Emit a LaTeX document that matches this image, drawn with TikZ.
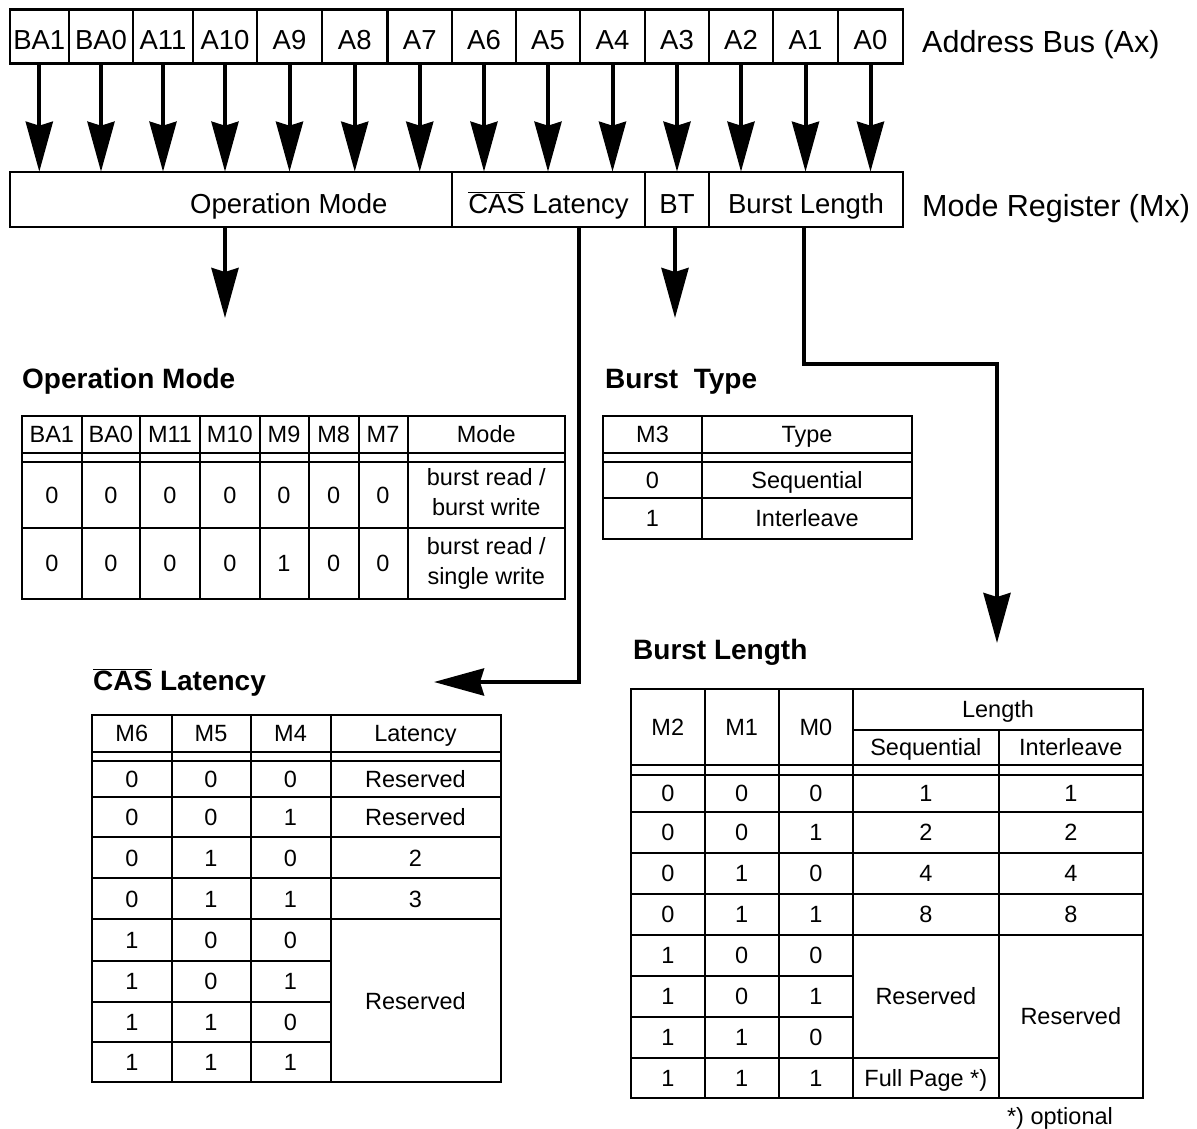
\documentclass[tikz,border=0pt]{standalone}
\usepackage{fontspec}
\setmainfont{Liberation Sans}
\usetikzlibrary{arrows.meta,calc}
\newcommand{\ovl}[1]{$\overline{\mbox{#1}}$}
\begin{document}
\begin{tikzpicture}[x=1pt,y=-1pt,
  regcell/.style={draw, line width=2.1pt, inner sep=0pt, outer sep=0pt, anchor=north west, font=\fontsize{27.5}{30}\selectfont},
  tline/.style={line width=2pt, line cap=rect},
  tt/.style={inner sep=0pt, font=\fontsize{23.5}{31}\selectfont, text height=16.8pt, text depth=0pt},
  tttwo/.style={inner sep=0pt, align=center, font=\fontsize{23.5}{30}\selectfont},
  ttl/.style={inner sep=0pt, anchor=base west, font=\fontsize{28}{30}\selectfont\bfseries},
  side/.style={inner sep=0pt, anchor=base west, font=\fontsize{30.5}{33}\selectfont},
  bigarrow/.style={line width=4pt, -{Stealth[length=50pt,width=27pt,inset=4pt]}},
]
\fill[white] (0,0) rectangle (1197,1129);
\useasboundingbox (0,0) rectangle (1197,1129);

% ---------- address bus ----------
\foreach \n/\l/\r/\t in {c0/9.6/69/BA1, c1/69/133/BA0, c2/133/193/A11, c3/193/257/A10, c4/257/322/A9, c5/322/387.5/A8, c6/387.5/452/A7, c7/452/516/A6, c8/516/580/A5, c9/580/645/A4, c10/645/709/A3, c11/709/773/A2, c12/773/838/A1, c13/838/903/A0}{
  \pgfmathsetmacro\w{\r-\l}
  \node[regcell, minimum width=\w pt, minimum height=54pt, text height=27pt, text depth=0pt] (\n) at (\l,9.5) {\t};
}
\node[side] (lab) at (922,53) {Address Bus (Ax)};

% ---------- mode register ----------
\node[regcell, minimum width=442.4pt, minimum height=55pt] (rop) at (9.6,171.7) {};
\node[regcell, minimum width=193pt, minimum height=55pt, text height=28.2pt, text depth=0pt] (rcas) at (452,171.7) {\ovl{CAS} Latency};
\node[regcell, minimum width=64pt, minimum height=55pt, text height=28.2pt, text depth=0pt] (rbt) at (645,171.7) {BT};
\node[regcell, minimum width=194pt, minimum height=55pt, text height=28.2pt, text depth=0pt] (rbl) at (709,171.7) {Burst Length};
\node[inner sep=0pt, font=\fontsize{27.5}{30}\selectfont, text height=28.2pt, text depth=0pt] (ropt) at ($(rop.center)+(58,0)$) {Operation Mode};
\node[side] (lmr) at (922,216.7) {Mode Register (Mx)};

% arrows bus -> register
\foreach \i in {0,...,13}
  \draw[bigarrow] (c\i.south) -- (c\i.south |- rop.north);

% arrows from register
\coordinate (opend) at (225,318);
\coordinate (btend) at (675,318);
\coordinate (casturn) at (579,682);
\coordinate (castip) at (434,682);
\coordinate (blone) at (804,364);
\coordinate (bltwo) at (997,364);
\coordinate (bltip) at (997,643);
\draw[bigarrow] (rop.south -| opend) -- (opend);
\draw[bigarrow] (rbt.south -| btend) -- (btend);
\draw[bigarrow] (rcas.south -| casturn) -- (casturn) -- (castip);
\draw[bigarrow] (rbl.south -| blone) -- (blone) -- (bltwo) -- (bltip);

% ---------- titles ----------
\node[ttl] (tom) at (22,388) {Operation Mode};
\node[ttl] (tbt) at (605,388) {Burst\ \ Type};
\node[ttl] (tbl) at (633,659) {Burst Length};
\node[ttl] (tcas) at (93,690) {\ovl{CAS} Latency};

% ---------- operation mode table ----------
\foreach \y in {416,452.7,461.7,527.7,599} \draw[tline] (22,\y) -- (565,\y);
\foreach \x in {22,81.5,140,200,259.5,308.6,358.5,407.6,565} \draw[tline] (\x,416) -- (\x,599);
\foreach \x/\t [count=\i] in {51.8/BA1,110.8/BA0,170/M11,229.8/M10,284/M9,333.6/M8,383/M7,486.3/Mode}
  \node[tt] (omh\i) at (\x,434.4) {\t};
\foreach \x/\t [count=\i] in {51.8/0,110.8/0,170/0,229.8/0,284/0,333.6/0,383/0}
  \node[tt] (oma\i) at (\x,494.7) {\t};
\foreach \x/\t [count=\i] in {51.8/0,110.8/0,170/0,229.8/0,284/1,333.6/0,383/0}
  \node[tt] (omb\i) at (\x,563.4) {\t};
\node[tttwo] (oma8) at (486.3,492.5) {burst read /\\burst write};
\node[tttwo] (omb8) at (486.3,563.4) {burst read /\\single write};

% ---------- burst type table ----------
\foreach \y in {416,452.7,461.7,497.7,539} \draw[tline] (603,\y) -- (912,\y);
\foreach \x in {603,702,912} \draw[tline] (\x,416) -- (\x,539);
\node[tt] (bth1) at (652.5,434.4) {M3};
\node[tt] (bth2) at (807,434.4) {Type};
\node[tt] (bta1) at (652.5,479.7) {0};
\node[tt] (bta2) at (807,479.7) {Sequential};
\node[tt] (btb1) at (652.5,518.4) {1};
\node[tt] (btb2) at (807,518.4) {Interleave};

% ---------- CAS latency table ----------
\foreach \y in {715,751.7,760.7,796.7,837.3,878.3,919.3,1082.3} \draw[tline] (92,\y) -- (500.5,\y);
\foreach \y in {960.7,1001.7,1041.7} \draw[tline] (92,\y) -- (330.5,\y);
\foreach \x in {92,171.5,250.5,330.5,500.5} \draw[tline] (\x,715) -- (\x,1082.3);
\foreach \x/\t [count=\i] in {131.8/M6,211/M5,290.5/M4,415.5/Latency}
  \node[tt] (clh\i) at (\x,733.4) {\t};
\foreach \y/\a/\b/\c [count=\r] in {778.7/0/0/0, 817/0/0/1, 857.8/0/1/0, 898.8/0/1/1, 940/1/0/0, 981.2/1/0/1, 1021.7/1/1/0, 1062/1/1/1}{
  \node[tt] (cl\r a) at (131.8,\y) {\a};
  \node[tt] (cl\r b) at (211,\y) {\b};
  \node[tt] (cl\r c) at (290.5,\y) {\c};
}
\foreach \y/\t [count=\r] in {778.7/Reserved, 817/Reserved, 857.8/2, 898.8/3}
  \node[tt] (cl\r d) at (415.5,\y) {\t};
\node[tt] (clres) at (415.5,1000.8) {Reserved};

% ---------- burst length table ----------
\foreach \y in {689,765,774.5,811.7,852.7,893.7,935,1098} \draw[tline] (631,\y) -- (1143,\y);
\draw[tline] (853,730) -- (1143,730);
\foreach \y in {975.7,1016.7} \draw[tline] (631,\y) -- (853,\y);
\draw[tline] (631,1057.7) -- (998.6,1057.7);
\foreach \x in {631,704.5,778.8,853,1143} \draw[tline] (\x,689) -- (\x,1098);
\draw[tline] (998.6,730) -- (998.6,1098);
\node[tt] (blh1) at (667.8,727) {M2};
\node[tt] (blh2) at (741.7,727) {M1};
\node[tt] (blh3) at (815.9,727) {M0};
\node[tt] (blhl) at (998,709.5) {Length};
\node[tt] (blhs) at (925.8,747.5) {Sequential};
\node[tt] (blhi) at (1070.8,747.5) {Interleave};
\foreach \y/\a/\b/\c [count=\r] in {793.1/0/0/0, 832.2/0/0/1, 873.2/0/1/0, 914.4/0/1/1, 955.4/1/0/0, 996.2/1/0/1, 1037.2/1/1/0, 1077.9/1/1/1}{
  \node[tt] (bl\r a) at (667.8,\y) {\a};
  \node[tt] (bl\r b) at (741.7,\y) {\b};
  \node[tt] (bl\r c) at (815.9,\y) {\c};
}
\foreach \y/\t [count=\r] in {793.1/1, 832.2/2, 873.2/4, 914.4/8}{
  \node[tt] (bl\r s) at (925.8,\y) {\t};
  \node[tt] (bl\r i) at (1070.8,\y) {\t};
}
\node[tt] (blsres) at (925.8,996.4) {Reserved};
\node[tt] (blfull) at (925.8,1077.9) {Full Page *)};
\node[tt] (blires) at (1070.8,1016.5) {Reserved};
\node[tt] (blopt) at (1060,1116) {*) optional};
\end{tikzpicture}
\end{document}
